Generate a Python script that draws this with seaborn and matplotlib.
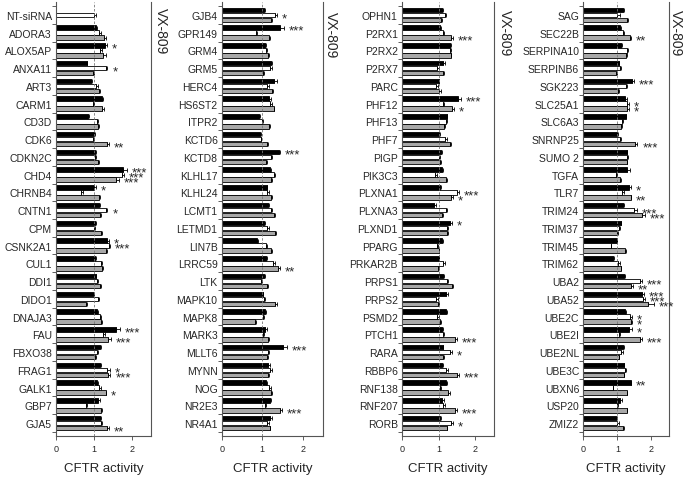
import numpy as np
import pandas as pd
import matplotlib.pyplot as plt
import seaborn as sns

sns.set_style('white')
plt.rcParams['font.family'] = ['Liberation Sans', 'DejaVu Sans']

nan = np.nan

# ---- panel 1 ----
genes_1 = ['NT-siRNA', 'ADORA3', 'ALOX5AP', 'ANXA11', 'ART3', 'CARM1', 'CD3D', 'CDK6',
           'CDKN2C', 'CHD4', 'CHRNB4', 'CNTN1', 'CPM', 'CSNK2A1', 'CUL1', 'DDI1',
           'DIDO1', 'DNAJA3', 'FAU', 'FBXO38', 'FRAG1', 'GALK1', 'GBP7', 'GJA5']
black_1 = [nan, 1.06, 1.30, 0.81, 0.93, 1.23, 0.84, 1.00, 1.03, 1.78, 1.01, 1.14,
           1.03, 1.36, 1.03, 1.05, 0.99, 1.08, 1.60, 1.16, 1.16, 1.08, 1.11, 1.16]
white_1 = [1.00, 1.15, 1.16, 1.32, 1.06, 0.99, 1.08, 0.99, 1.03, 1.74, 0.66, 1.32,
           1.00, 1.39, 1.18, 1.08, 1.12, 1.16, 1.25, 1.08, 1.36, 1.15, 0.79, 1.18]
gray_1 = [nan, 1.27, 1.25, 0.99, 1.13, 1.22, 1.10, 1.34, 1.10, 1.60, 1.15, 1.16,
          1.18, 1.31, 1.21, 1.16, 0.79, 1.19, 1.38, 1.03, 1.38, 1.31, 1.19, 1.36]
black_err_1 = [nan, .03, .05, .02, .02, .02, .02, .02, .02, .09, .04, .03,
               .04, .04, .02, .02, .02, .04, .09, .03, .02, .02, .05, .04]
white_err_1 = [.05, .03, .05, .04, .04, .02, .03, .02, .02, .06, .06, .04,
               .02, .04, .03, .03, .03, .04, .05, .02, .07, .04, .02, .04]
gray_err_1 = [nan, .05, .07, .02, .03, .04, .03, .05, .04, .07, .02, .03,
              .04, .03, .03, .03, .02, .03, .08, .02, .06, .02, .02, .03]
stars_1 = [('ALOX5AP', 'black', '*'), ('ANXA11', 'white', '*'), ('CDK6', 'gray', '**'),
           ('CHD4', 'black', '***'), ('CHD4', 'white', '***'), ('CHD4', 'gray', '***'),
           ('CHRNB4', 'black', '*'), ('CNTN1', 'white', '*'), ('CSNK2A1', 'black', '*'),
           ('CSNK2A1', 'white', '***'), ('FAU', 'black', '***'), ('FAU', 'gray', '***'),
           ('FRAG1', 'white', '*'), ('FRAG1', 'gray', '***'), ('GALK1', 'gray', '*'),
           ('GJA5', 'gray', '**')]

# ---- panel 2 ----
genes_2 = ['GJB4', 'GPR149', 'GRM4', 'GRM5', 'HERC4', 'HS6ST2', 'ITPR2', 'KCTD6',
           'KCTD8', 'KLHL17', 'KLHL24', 'LCMT1', 'LETMD1', 'LIN7B', 'LRRC59', 'LTK',
           'MAPK10', 'MAPK8', 'MARK3', 'MLLT6', 'MYNN', 'NOG', 'NR2E3', 'NR4A1']
black_2 = [1.05, 1.44, 1.07, 1.22, 1.30, 1.16, 0.93, 0.95, 1.41, 1.19, 1.11, 1.14,
           1.05, 0.88, 1.09, 1.05, 1.01, 1.07, 1.07, 1.52, 1.15, 1.09, 1.19, 1.18]
white_2 = [1.32, 0.85, 1.09, 1.18, 1.11, 1.18, 1.00, 0.96, 1.21, 1.28, 1.13, 1.22,
           1.13, 1.09, 1.26, 0.97, 1.05, 1.03, 1.01, 1.14, 1.19, 1.17, 1.07, 1.13]
gray_2 = [1.21, 1.16, 1.14, 1.03, 1.23, 1.28, 1.16, 1.11, 1.09, 1.21, 1.21, 1.28,
          1.32, 1.21, 1.38, 1.11, 1.32, 0.82, 1.14, 1.13, 1.15, 1.21, 1.44, 1.18]
black_err_2 = [.02, .10, .02, .03, .07, .05, .02, .02, .03, .02, .02, .02,
               .02, .02, .02, .02, .02, .02, .06, .08, .04, .02, .02, .06]
white_err_2 = [.04, .02, .03, .06, .05, .05, .03, .02, .02, .03, .03, .03,
               .03, .03, .06, .02, .02, .02, .04, .02, .04, .04, .02, .04]
gray_err_2 = [.02, .02, .03, .02, .03, .02, .02, .03, .02, .02, .02, .03,
              .02, .02, .06, .04, .04, .02, .02, .02, .02, .02, .04, .02]
stars_2 = [('GJB4', 'white', '*'), ('GPR149', 'black', '***'), ('KCTD8', 'black', '***'),
           ('LRRC59', 'gray', '**'), ('MLLT6', 'black', '***'), ('NR2E3', 'gray', '***')]

# ---- panel 3 ----
genes_3 = ['OPHN1', 'P2RX1', 'P2RX2', 'P2RX7', 'PARC', 'PHF12', 'PHF13', 'PHF7',
           'PIGP', 'PIK3C3', 'PLXNA1', 'PLXNA3', 'PLXND1', 'PPARG', 'PRKAR2B', 'PRPS1',
           'PRPS2', 'PSMD2', 'PTCH1', 'RARA', 'RBBP6', 'RNF138', 'RNF207', 'RORB']
black_3 = [1.09, 1.04, 1.32, 1.13, 1.00, 1.53, 1.22, 1.02, 1.07, 1.10, 1.04, 0.88,
           1.32, 1.10, 1.00, 1.13, 1.21, 1.21, 1.09, 1.11, 1.09, 1.21, 1.09, 1.04]
white_3 = [1.18, 1.11, 1.30, 0.95, 0.92, 1.11, 1.19, 1.18, 1.02, 0.91, 1.50, 1.19,
           1.24, 0.95, 1.13, 1.22, 0.93, 0.95, 1.13, 1.32, 1.21, 1.04, 1.13, 1.34]
gray_3 = [1.07, 1.34, 1.33, 1.13, 1.02, 1.37, 1.16, 1.32, 1.04, 1.21, 1.34, 1.10,
          1.24, 1.00, 0.99, 1.36, 0.98, 1.04, 1.45, 1.13, 1.50, 1.27, 1.45, 1.22]
black_err_3 = [.02, .02, .02, .04, .02, .08, .02, .02, .02, .02, .02, .04,
               .04, .02, .02, .02, .04, .02, .02, .02, .02, .02, .05, .02]
white_err_3 = [.03, .04, .04, .05, .05, .04, .04, .05, .02, .04, .05, .04,
               .02, .04, .04, .04, .04, .05, .02, .05, .06, .02, .05, .05]
gray_err_3 = [.02, .04, .02, .02, .04, .05, .02, .02, .02, .02, .05, .02,
              .02, .02, .02, .02, .02, .02, .05, .02, .05, .05, .05, .02]
stars_3 = [('P2RX1', 'gray', '***'), ('PHF12', 'black', '***'), ('PHF12', 'gray', '*'),
           ('PLXNA1', 'white', '***'), ('PLXNA1', 'gray', '*'), ('PLXND1', 'black', '*'),
           ('PTCH1', 'gray', '***'), ('RARA', 'white', '*'), ('RBBP6', 'gray', '***'),
           ('RNF207', 'gray', '***'), ('RORB', 'white', '*')]

# ---- panel 4 ----
genes_4 = ['SAG', 'SEC22B', 'SERPINA10', 'SERPINB6', 'SGK223', 'SLC25A1', 'SLC6A3', 'SNRNP25',
           'SUMO 2', 'TGFA', 'TLR7', 'TRIM24', 'TRIM37', 'TRIM45', 'TRIM62', 'UBA2',
           'UBA52', 'UBE2C', 'UBE2I', 'UBE2NL', 'UBE3C', 'UBXN6', 'USP20', 'ZMIZ2']
black_4 = [1.16, 1.08, 1.11, 1.04, 1.42, 1.23, 1.24, 1.00, 1.27, 1.29, 1.33, 1.16,
           1.10, 0.98, 0.88, 1.20, 1.72, 1.23, 1.35, 1.16, 1.18, 1.39, 1.08, 0.96]
white_4 = [1.00, 1.16, 1.27, 1.08, 1.25, 1.29, 1.13, 1.08, 1.29, 0.96, 1.13, 1.49,
           1.06, 0.80, 1.03, 1.65, 1.74, 1.37, 1.06, 1.11, 1.23, 0.86, 1.00, 1.00]
gray_4 = [1.27, 1.37, 1.25, 0.96, 1.03, 1.29, 1.12, 1.52, 1.27, 1.08, 1.39, 1.72,
          1.00, 1.23, 1.10, 1.39, 1.91, 1.39, 1.65, 1.04, 1.18, 1.27, 1.27, 1.16]
black_err_4 = [.02, .02, .02, .02, .07, .05, .02, .02, .02, .08, .06, .02,
               .02, .02, .02, .02, .05, .02, .07, .02, .02, .02, .05, .02]
white_err_4 = [.08, .02, .04, .04, .04, .04, .03, .04, .02, .02, .05, .08,
               .02, .02, .05, .07, .08, .05, .02, .05, .03, .02, .02, .04]
gray_err_4 = [.05, .02, .04, .02, .02, .04, .02, .07, .02, .02, .02, .10,
              .02, .02, .02, .06, .15, .04, .06, .02, .02, .02, .02, .02]
stars_4 = [('SEC22B', 'gray', '**'), ('SGK223', 'black', '***'), ('SLC25A1', 'white', '*'),
           ('SLC25A1', 'gray', '*'), ('SNRNP25', 'gray', '***'), ('TLR7', 'black', '*'),
           ('TLR7', 'gray', '**'), ('TRIM24', 'white', '***'), ('TRIM24', 'gray', '***'),
           ('UBA2', 'white', '***'), ('UBA2', 'gray', '**'), ('UBA52', 'black', '***'),
           ('UBA52', 'white', '***'), ('UBA52', 'gray', '***'), ('UBE2C', 'white', '*'),
           ('UBE2C', 'gray', '*'), ('UBE2I', 'black', '*'), ('UBE2I', 'gray', '***'),
           ('UBXN6', 'black', '**')]

panels = [
    (genes_1, black_1, white_1, gray_1, black_err_1, white_err_1, gray_err_1, stars_1),
    (genes_2, black_2, white_2, gray_2, black_err_2, white_err_2, gray_err_2, stars_2),
    (genes_3, black_3, white_3, gray_3, black_err_3, white_err_3, gray_err_3, stars_3),
    (genes_4, black_4, white_4, gray_4, black_err_4, white_err_4, gray_err_4, stars_4),
]

conds = ['black', 'white', 'gray']
colors = {'black': '#000000', 'white': '#ffffff', 'gray': '#a8a8a8'}

W, H = 683, 485
# axes extents in pixels (left, right)
boxes = [(56, 150.5), (221.7, 323), (402, 493.5), (583.3, 668.5)]
top_px, bot_px = 3, 437
vx_pos = [(161, 8), (331, 12), (505, 10), (676, 10)]

fig = plt.figure(figsize=(W / 100, H / 100), dpi=100)
width = 0.85
slot = width / 3

for (genes, blk, wht, gry, be, we, ge, stars), (l, r), (vx, vy) in zip(panels, boxes, vx_pos):
    ax = fig.add_axes([l / W, 1 - bot_px / H, (r - l) / W, (bot_px - top_px) / H])
    n = len(genes)
    df = pd.DataFrame({
        'gene': genes * 3,
        'cond': np.repeat(conds, n),
        'value': blk + wht + gry,
        'err': be + we + ge,
    }).dropna()

    sns.barplot(data=df, y='gene', x='value', hue='cond', order=genes, hue_order=conds,
                palette=colors, orient='h', width=width, gap=0.1, errorbar=None,
                edgecolor='black', linewidth=0.6, legend=False, ax=ax, zorder=2)

    df['ypos'] = [genes.index(g) + (conds.index(c) - 1) * slot
                  for g, c in zip(df['gene'], df['cond'])]
    ax.errorbar(df['value'], df['ypos'], xerr=[np.zeros(len(df)), df['err']],
                fmt='none', ecolor='black', elinewidth=0.6, capsize=1.3,
                capthick=0.6, zorder=3)

    lookup = df.set_index(['gene', 'cond'])
    for g, c, s in stars:
        row = lookup.loc[(g, c)]
        ax.annotate(s, xy=(row['value'] + row['err'], row['ypos']), xytext=(3.5, -2.2),
                    textcoords='offset points', ha='left', va='center',
                    fontsize=9.5, annotation_clip=False)

    ax.axvline(1, color='#777777', lw=0.6, ls=(0, (3, 2)), zorder=4)

    ax.set_xlim(0, 2.5)
    ax.set_ylim(n - 1 + 0.73, -0.73)
    ax.set_xticks([0, 1, 2])
    ax.set_xticklabels(['0', '1', '2'])
    ax.set_yticks(range(n))
    ax.set_yticklabels(genes)
    ax.set_yticks(np.arange(-0.5, n, 1.0), minor=True)
    ax.tick_params(axis='y', which='major', length=0, pad=3, labelsize=7.5)
    ax.tick_params(axis='y', which='minor', length=3, width=0.6, direction='out',
                   color='#444444', left=True)
    ax.tick_params(axis='x', length=3, width=0.6, direction='out', color='#444444',
                   labelsize=6.5, pad=2.5, bottom=True)
    ax.set_ylabel('')
    ax.set_xlabel('CFTR activity', fontsize=9.5, labelpad=7)
    ax.spines['top'].set_visible(False)
    for side in ['left', 'right', 'bottom']:
        ax.spines[side].set_color('#555555')
        ax.spines[side].set_linewidth(0.8)

    fig.text(vx / W, 1 - vy / H, 'VX-809', rotation=270, ha='center', va='top',
             fontsize=10)

fig.savefig('out.png', dpi=100, facecolor='white')
